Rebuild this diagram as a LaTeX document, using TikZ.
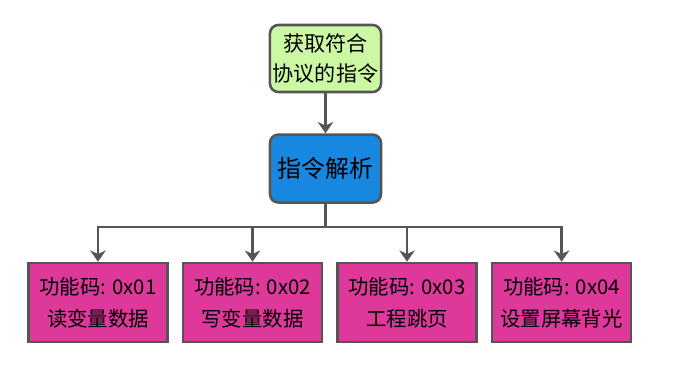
\documentclass[tikz,border=0pt]{standalone}
\usepackage{fontspec}
\setmainfont{Noto Sans CJK SC}
\usepackage{xcolor}
\usepackage{tikz}
\usetikzlibrary{positioning, arrows.meta}
\definecolor{edgegray}{RGB}{85,85,85}
\definecolor{fetchgreen}{RGB}{204,247,163}
\definecolor{parseblue}{RGB}{24,135,224}
\definecolor{funcpink}{RGB}{222,56,155}

\begin{document}
\begin{tikzpicture}[
    cmdbox/.style={draw=edgegray, line width=1.8pt, rounded corners=6pt,
                   minimum width=2.775cm, minimum height=1.675cm,
                   fill=fetchgreen, align=center, inner sep=2pt,
                   font=\fontsize{15}{21}\selectfont},
    parsebox/.style={draw=edgegray, line width=1.8pt, rounded corners=6pt,
                     minimum width=2.775cm, minimum height=1.7cm,
                     fill=parseblue, align=center,
                     font=\fontsize{17}{21}\selectfont},
    funcbox/.style={draw=edgegray, line width=1.8pt,
                    minimum width=3.475cm, minimum height=1.975cm,
                    fill=funcpink, align=center, inner sep=2pt,
                    font=\fontsize{14.5}{23}\selectfont},
    arr/.style={-{Stealth[length=8pt, width=11pt, inset=2.5pt]},
                draw=edgegray, line width=1.8pt},
  ]
  \useasboundingbox (0,0) rectangle (17.025,-9.525);

  % Fetch and parse
  \node[cmdbox] (fetch) at (8.1375,-1.4625) {获取符合\\协议的指令};
  \node[parsebox, below=1.0cm of fetch] (parse) {指令解析};
  \draw[arr] (fetch) -- (parse);

  % Function codes
  \node[funcbox] (f1) at (2.45,-7.5625) {功能码: 0x01\\读变量数据};
  \node[funcbox, right=0.325cm of f1] (f2) {功能码: 0x02\\写变量数据};
  \node[funcbox, right=0.325cm of f2] (f3) {功能码: 0x03\\工程跳页};
  \node[funcbox, right=0.325cm of f3] (f4) {功能码: 0x04\\设置屏幕背光};

  \foreach \f in {f1,f2,f3,f4}
    \draw[arr] (parse.south) -- ++(0,-0.575) -| (\f.north);

\end{tikzpicture}
\end{document}
